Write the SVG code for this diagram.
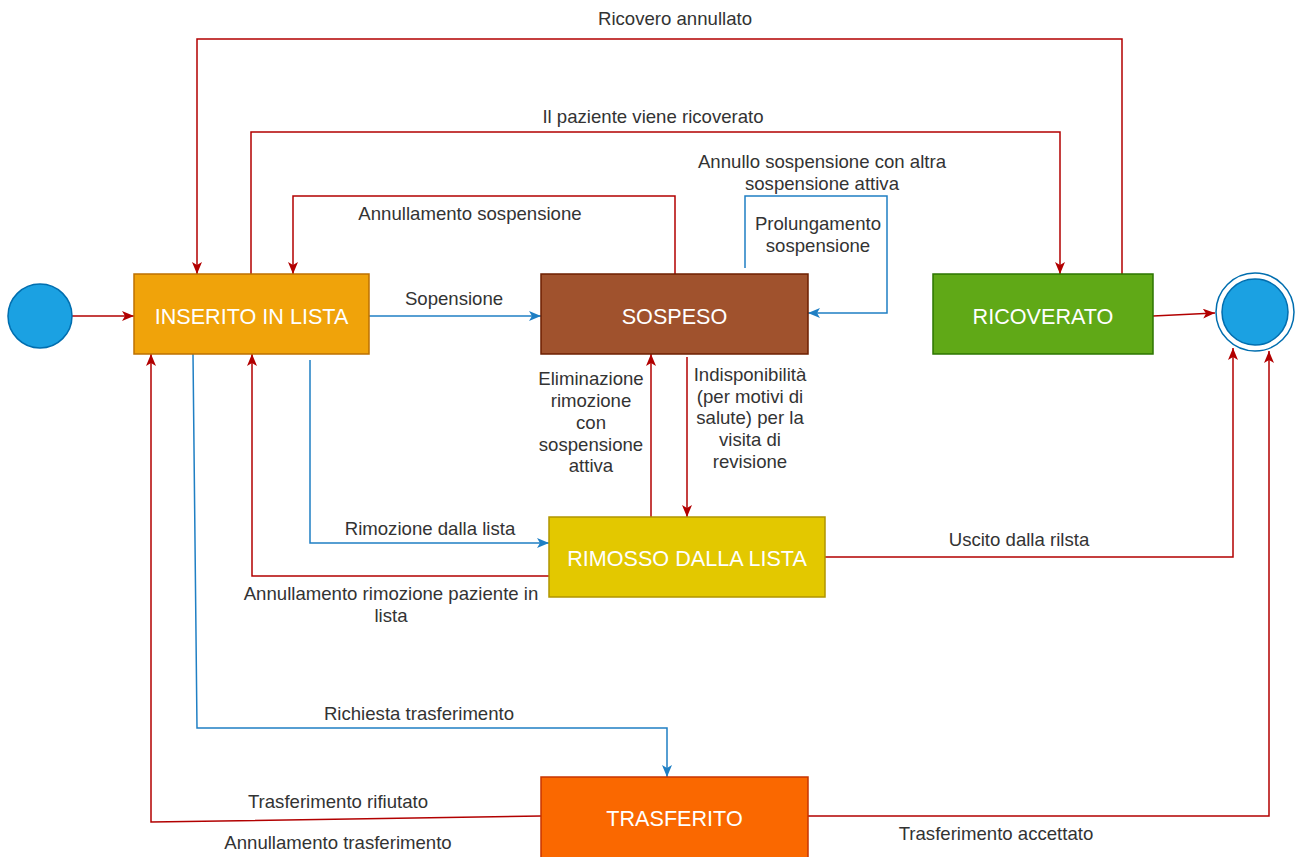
<svg xmlns="http://www.w3.org/2000/svg" width="1297" height="857" viewBox="0 0 1297 857">
<style>
.lbl{font-family:"Liberation Sans",Arial,sans-serif;font-size:18.6px;fill:#333333;text-anchor:middle}
.ntx{font-family:"Liberation Sans",Arial,sans-serif;font-size:21.6px;fill:#ffffff;text-anchor:middle}
.r{fill:none;stroke:#B20000;stroke-width:1.5;marker-end:url(#ar)}
.rn{fill:none;stroke:#B20000;stroke-width:1.5}
.b{fill:none;stroke:#1f7fc4;stroke-width:1.5;marker-end:url(#ab)}
</style>
<defs>
<marker id="ar" markerUnits="userSpaceOnUse" markerWidth="12" markerHeight="10" refX="12" refY="5" orient="auto">
<path d="M0,0 L12,5 L0,10 L3,5 Z" fill="#B20000"/>
</marker>
<marker id="ab" markerUnits="userSpaceOnUse" markerWidth="12" markerHeight="10" refX="12" refY="5" orient="auto">
<path d="M0,0 L12,5 L0,10 L3,5 Z" fill="#1f7fc4"/>
</marker>
</defs>
<rect width="1297" height="857" fill="#ffffff"/>
<g id="connectors">
<polyline class="r" points="72,316 134,316"/>
<polyline class="b" points="369,316 541,316"/>
<polyline class="r" points="1122,274 1122,39 197,39 197,274"/>
<polyline class="r" points="251,274 251,132 1060,132 1060,274"/>
<polyline class="r" points="675,274 675,196 293,196 293,274"/>
<polyline class="b" points="745,268 745,196 887,196 887,313 808,313"/>
<polyline class="b" points="310,360 310,543 549,543"/>
<polyline class="r" points="549,576 252,576 252,354"/>
<polyline class="r" points="651,525 651,354"/>
<polyline class="r" points="687,357 687,517"/>
<polyline class="r" points="825,557 1233,557 1233,348"/>
<polyline class="b" points="193,354 197,728 667,728 667,777"/>
<polyline class="r" points="541,816 151,822 151,354"/>
<polyline class="r" points="808,816 1269,816 1269,351"/>
<polyline class="r" points="1153,316 1215,313"/>
</g>
<g id="labels">
<text class="lbl" x="675" y="24.5">Ricovero annullato</text>
<text class="lbl" x="653" y="122.5">Il paziente viene ricoverato</text>
<text class="lbl" x="822" y="167.5">Annullo sospensione con altra</text>
<text class="lbl" x="822" y="189.5">sospensione attiva</text>
<text class="lbl" x="818" y="229.5">Prolungamento</text>
<text class="lbl" x="818" y="251.5">sospensione</text>
<text class="lbl" x="470" y="219.5">Annullamento sospensione</text>
<text class="lbl" x="454" y="304.5">Sopensione</text>
<text class="lbl" x="591" y="384.5">Eliminazione</text>
<text class="lbl" x="591" y="406.5">rimozione</text>
<text class="lbl" x="591" y="428.5">con</text>
<text class="lbl" x="591" y="450.5">sospensione</text>
<text class="lbl" x="591" y="472">attiva</text>
<text class="lbl" x="750" y="380.5">Indisponibilità</text>
<text class="lbl" x="750" y="402.5">(per motivi di</text>
<text class="lbl" x="750" y="424">salute) per la</text>
<text class="lbl" x="750" y="446">visita di</text>
<text class="lbl" x="750" y="467.5">revisione</text>
<text class="lbl" x="430" y="534.5">Rimozione dalla lista</text>
<text class="lbl" x="391" y="599.5">Annullamento rimozione paziente in</text>
<text class="lbl" x="391" y="621.5">lista</text>
<text class="lbl" x="1019" y="545.5">Uscito dalla rilsta</text>
<text class="lbl" x="419" y="719.5">Richiesta trasferimento</text>
<text class="lbl" x="338" y="808">Trasferimento rifiutato</text>
<text class="lbl" x="338" y="849">Annullamento trasferimento</text>
<text class="lbl" x="996" y="839.5">Trasferimento accettato</text>
</g>
<g id="start">
<circle cx="40" cy="316" r="32" fill="#1ba1e2" stroke="#006EAF" stroke-width="1.5"/>
</g>
<g id="inserito">
<rect x="134" y="274" width="235" height="80" fill="#f0a30a" stroke="#BD7000" stroke-width="1.5"/>
<text class="ntx" x="251.5" y="323.5">INSERITO IN LISTA</text>
</g>
<g id="sospeso">
<rect x="541" y="274" width="267" height="80" fill="#a0522d" stroke="#6D1F00" stroke-width="1.5"/>
<text class="ntx" x="674.5" y="323.5">SOSPESO</text>
</g>
<g id="ricoverato">
<rect x="933" y="274" width="220" height="80" fill="#60a917" stroke="#2D7600" stroke-width="1.5"/>
<text class="ntx" x="1043" y="323.5">RICOVERATO</text>
</g>
<g id="end">
<circle cx="1255" cy="312" r="39" fill="#ffffff" stroke="#006EAF" stroke-width="1.5"/>
<circle cx="1255" cy="312" r="33" fill="#1ba1e2" stroke="#006EAF" stroke-width="1.5"/>
</g>
<g id="rimosso">
<rect x="549" y="517" width="276" height="80" fill="#e3c800" stroke="#B09500" stroke-width="1.5"/>
<text class="ntx" x="687" y="566">RIMOSSO DALLA LISTA</text>
</g>
<g id="trasferito">
<rect x="541" y="777" width="267" height="82" fill="#fa6800" stroke="#C73500" stroke-width="1.5"/>
<text class="ntx" x="674.5" y="825.5">TRASFERITO</text>
</g>
</svg>
